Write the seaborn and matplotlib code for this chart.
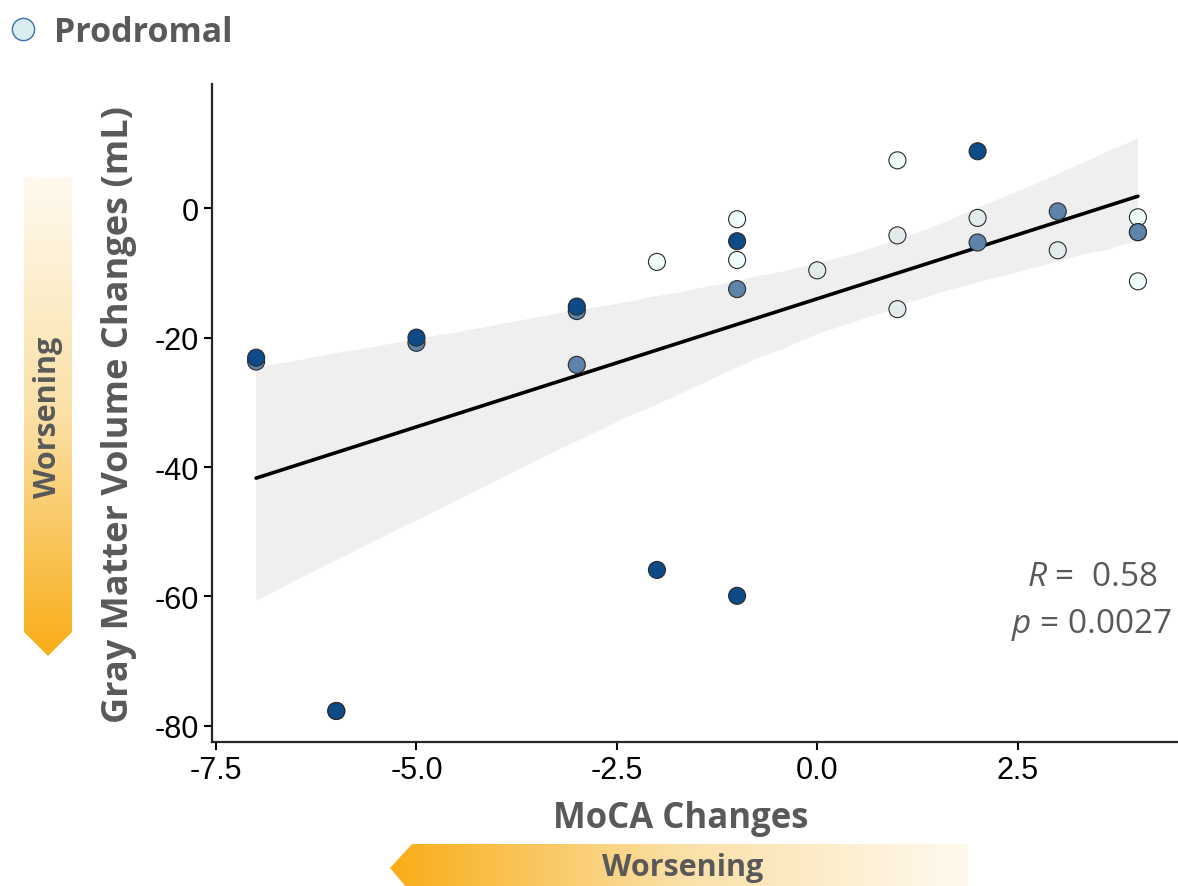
import numpy as np
import pandas as pd
import matplotlib
matplotlib.use("Agg")
import matplotlib.pyplot as plt
import seaborn as sns
from matplotlib.patches import Polygon
from matplotlib.colors import LinearSegmentedColormap
from matplotlib.lines import Line2D

# MoCA change vs gray matter volume change
moca = [-7, -7, -6, -6, -5, -5, -3, -3, -3, -2, -2, -1, -1, -1, -1, -1, 0,
        1, 1, 1, 2, 2, 2, 3, 3, 4, 4, 4, 4]
gmv = [-23.7, -23.1, -77.7, -77.7, -20.8, -20.0, -15.9, -15.2, -24.2, -8.3,
       -55.9, -1.7, -5.1, -8.0, -12.5, -59.9, -9.6, 7.4, -4.2, -15.6, 8.8,
       -1.5, -5.3, -0.5, -6.5, -1.4, -3.7, -3.7, -11.3]
shade = ["medium", "dark", "dark", "dark", "medium", "dark", "medium", "dark",
         "medium", "light", "dark", "light", "dark", "light", "medium", "dark",
         "pale", "light", "pale", "pale", "dark", "pale", "medium", "medium",
         "pale", "light", "dark", "medium", "light"]

x_ticks = [-7.5, -5.0, -2.5, 0.0, 2.5]
y_ticks = [0, -20, -40, -60, -80]
stats_text = [r"$R$ =  0.58", r"$p$ = 0.0027"]

palette = {"dark": "#0e4a86", "medium": "#5e84a9",
           "light": "#eefcfb", "pale": "#e3ebec"}
grey_txt = "#595959"

df = pd.DataFrame({"moca": moca, "gmv": gmv, "shade": shade})

sns.set_style("ticks")
plt.rcParams["font.family"] = ["Liberation Sans", "DejaVu Sans"]
plt.rcParams["axes.unicode_minus"] = False
plt.rcParams["mathtext.fontset"] = "custom"
plt.rcParams["mathtext.it"] = "Open Sans:italic"
plt.rcParams["mathtext.rm"] = "Open Sans"

fig = plt.figure(figsize=(11.78, 8.87), dpi=100)
ax = fig.add_axes([0.18, 0.1623, 0.82, 0.7419])

sns.regplot(data=df, x="moca", y="gmv", scatter=False, ci=95, ax=ax,
            color="black", line_kws={"linewidth": 2.6})
for coll in ax.collections:
    coll.set_facecolor("#efefef")
    coll.set_alpha(1)
    coll.set_edgecolor("none")

sns.scatterplot(data=df, x="moca", y="gmv", hue="shade", palette=palette,
                s=150, edgecolor="#2a2a2a", linewidth=0.8, legend=False,
                ax=ax, zorder=3)

ax.set_xlim(-7.55, 4.5)
ax.set_ylim(-82.5, 19.2)
ax.set_xticks(x_ticks)
ax.set_xticklabels([f"{t:.1f}" for t in x_ticks])
ax.set_yticks(y_ticks)
ax.tick_params(labelsize=22, length=6, width=1.5, colors="black")
for side in ["top", "right"]:
    ax.spines[side].set_visible(False)
for side in ["left", "bottom"]:
    ax.spines[side].set_linewidth(1.6)

ax.set_xlabel("MoCA Changes", fontsize=25, fontweight="bold",
              family="Open Sans", color=grey_txt)
ax.set_ylabel("Gray Matter Volume Changes (mL)", fontsize=26,
              fontweight="bold", family="Open Sans", color=grey_txt)
ax.xaxis.set_label_coords(0.4855, -0.088)
ax.yaxis.set_label_coords(-0.078, 0.50)

ax.text(0.979, 0.251, stats_text[0], transform=ax.transAxes, ha="right",
        va="center", fontsize=24, family="Open Sans", color=grey_txt)
ax.text(0.994, 0.179, stats_text[1], transform=ax.transAxes, ha="right",
        va="center", fontsize=24, family="Open Sans", color=grey_txt)

# decorations: gradient "Worsening" arrows and group legend
deco = fig.add_axes([0, 0, 1, 1], zorder=-1)
grad = LinearSegmentedColormap.from_list("worse", ["#fff9ee", "#fbe0a6", "#f9ad17"])

left_arrow = Polygon([(24, 178), (72, 178), (72, 633), (48, 657), (24, 633)],
                     closed=True, facecolor="none", edgecolor="none")
deco.add_patch(left_arrow)
im = deco.imshow(np.linspace(0, 1, 256).reshape(-1, 1), cmap=grad,
                 extent=[24, 72, 657, 178], aspect="auto")
im.set_clip_path(left_arrow)
deco.text(48, 417, "Worsening", rotation=90, ha="center", va="center",
          fontsize=22, fontweight="bold", family="Open Sans", color=grey_txt)

bottom_arrow = Polygon([(390, 869), (412, 845), (968, 845), (968, 895), (412, 895)],
                       closed=True, facecolor="none", edgecolor="none")
deco.add_patch(bottom_arrow)
im2 = deco.imshow(np.linspace(1, 0, 256).reshape(1, -1), cmap=grad,
                  extent=[390, 968, 895, 845], aspect="auto")
im2.set_clip_path(bottom_arrow)
deco.text(683, 868, "Worsening", ha="center", va="center", fontsize=22,
          fontweight="bold", family="Open Sans", color=grey_txt)
deco.set_xlim(0, 1178)
deco.set_ylim(887, 0)
deco.axis("off")

handle = Line2D([], [], marker="o", linestyle="none", markersize=16,
                markerfacecolor="#d8eef0", markeredgecolor="#3c6fb0",
                markeredgewidth=1.0)
fig.legend([handle], ["Prodromal"], loc="upper left",
           bbox_to_anchor=(-0.021, 1.009), frameon=False, handletextpad=0.2,
           borderaxespad=0.3, handlelength=1.4,
           prop={"family": "Open Sans", "weight": "bold", "size": 24.5},
           labelcolor=grey_txt)

fig.savefig("out.png", dpi=100, facecolor="white")
